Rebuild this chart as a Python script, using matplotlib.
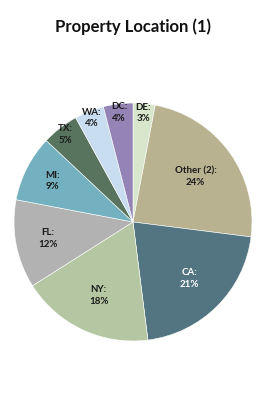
import numpy as np
import matplotlib.pyplot as plt

labels = ['DE', 'Other (2)', 'CA', 'NY', 'FL', 'MI', 'TX', 'WA', 'DC']
shares = [3, 24, 21, 18, 12, 9, 5, 4, 4]
colors = ['#d8e7cc', '#b8b290', '#537581', '#b4c6a2', '#b2b2b2',
          '#74b1c0', '#58735e', '#c9ddf0', '#9483b5']
text_colors = ['#1a1a1a', '#1a1a1a', 'white', '#1a1a1a', '#1a1a1a',
               '#1a1a1a', '#1a1a1a', '#1a1a1a', '#1a1a1a']
label_dist = [0.92, 0.65, 0.67, 0.68, 0.73, 0.76, 0.93, 0.94, 0.93]

fig = plt.figure(figsize=(2.66, 4.12), dpi=100)
fig.text(0.5, 1 - 27 / 412, 'Property Location (1)', ha='center', va='center',
         fontsize=12, fontweight='bold', family='Lato', color='#111111')

ax = fig.add_axes([14 / 266, 71 / 412, 238 / 266, 238 / 412])
wedges, _ = ax.pie(shares, colors=colors, startangle=90, counterclock=False,
                   wedgeprops=dict(edgecolor='white', linewidth=0.4))

for w, lab, val, d, tc in zip(wedges, labels, shares, label_dist, text_colors):
    ang = np.deg2rad((w.theta1 + w.theta2) / 2)
    ax.text(d * np.cos(ang), d * np.sin(ang), f'{lab}:\n{val}%',
            ha='center', va='center', fontsize=7, fontweight='bold',
            family='Lato', color=tc, linespacing=1.4)

ax.set_xlim(-1, 1)
ax.set_ylim(-1, 1)
ax.set_aspect('equal')
ax.axis('off')

fig.savefig('out.png', dpi=100)
